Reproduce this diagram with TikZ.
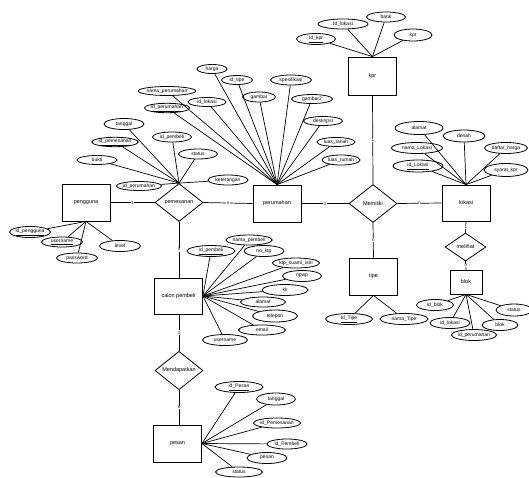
\documentclass[tikz,border=0pt]{standalone}
\usepackage{fontspec}
\setmainfont{Liberation Sans}
\usetikzlibrary{shapes.geometric}
\tikzset{
  ent/.style={draw, line width=0.8pt, rectangle, minimum width=48pt, minimum height=37pt, inner sep=0pt},
  rel/.style={draw, line width=0.8pt, diamond, minimum width=48pt, minimum height=38pt, inner sep=0pt},
  attr/.style={draw, line width=0.8pt, ellipse, inner sep=0pt, minimum width=40pt, minimum height=10pt, font=\fontsize{5}{5.5}\selectfont},
  conn/.style={line width=0.7pt},
  card/.style={fill=white, inner sep=0.6pt, font=\fontsize{4.5}{5}\selectfont},
}
\begin{document}
\begin{tikzpicture}[x=1pt,y=-1pt,font=\fontsize{5.5}{6}\selectfont]
\useasboundingbox (0,0) rectangle (529,477);
% entities
\node[ent] (pengguna) at (86,202.5) {pengguna};
\node[rel] (pemesanan) at (179,202.5) {pemesanan};
\node[ent] (perumahan) at (277,203.5) {perumahan};
\node[rel] (memiliki) at (373,203.5) {Memiliki};
\node[ent, minimum height=36pt] (lokasi) at (466,203) {lokasi};
\node[ent, minimum height=38pt] (kpr) at (372.5,76) {kpr};
\node[ent] (tipe) at (373.5,276.5) {tipe};
\node[rel, minimum width=41pt, minimum height=28pt] (melihat) at (465.5,247) {melihat};
\node[ent, minimum width=32pt, minimum height=24pt] (blok) at (466,282) {blok};
\node[ent, minimum height=36pt] (calon) at (178.5,296) {calon pembeli};
\node[rel, minimum height=37pt] (mendapatkan) at (179,370.5) {Mendapatkan};
\node[ent] (pesan) at (177.5,443.5) {pesan};

% relationships
\draw[conn] (pengguna.east) -- node[card]{1} (pemesanan.west);
\draw[conn] (pemesanan.east) -- node[card]{n} (perumahan.west);
\draw[conn] (perumahan.east) -- node[card]{1} (memiliki.west);
\draw[conn] (memiliki.east) -- node[card]{n} (lokasi.west);
\draw[conn] (kpr.south) -- node[card]{1} (memiliki.north);
\draw[conn] (memiliki.south) -- node[card]{n} (tipe.north);
\draw[conn] (lokasi.south) -- node[card]{1} (melihat.north);
\draw[conn] (melihat.south) -- node[card]{n} (blok.north);
\draw[conn] (pemesanan.south) -- node[card]{n} (pemesanan.south |- calon.north);
\draw[conn] (calon.south -| mendapatkan.north) -- node[card]{1} (mendapatkan.north);
\draw[conn] (mendapatkan.south) -- node[card]{n} (mendapatkan.south |- pesan.north);

% kpr attributes
\node[attr, minimum width=39pt, minimum height=11pt] (kpr1) at (316,39) {\underline{Id\_kpr}};
\node[attr, minimum width=50pt] (kpr2) at (343,24) {Id\_lokasi};
\node[attr, minimum width=39pt] (kpr3) at (386,17) {bank};
\node[attr, minimum width=38pt, minimum height=12pt] (kpr4) at (413,35) {kpr};
\foreach \a in {kpr1,kpr2,kpr3,kpr4} \draw[conn] (kpr.north) -- (\a);

% perumahan attributes
\node[attr, minimum width=30pt, minimum height=9pt] (pr1) at (212,69) {harga};
\node[attr, minimum width=31pt, minimum height=9pt] (pr2) at (237,80) {id\_tipe};
\node[attr, minimum width=41pt] (pr3) at (291,80) {spesifikasi};
\node[attr, minimum width=33pt] (pr4) at (259,97) {gambar};
\node[attr, minimum width=41pt, minimum height=9pt] (pr5) at (312,99) {gambar2};
\node[attr, minimum width=38pt, minimum height=9pt] (pr6) at (207,102) {id\_lokasi};
\node[attr, minimum width=49pt, minimum height=9pt] (pr7) at (167,91) {nama\_perumahan};
\node[attr, minimum width=41pt, minimum height=8pt] (pr8) at (167,108) {\underline{id\_perumahan}};
\node[attr, minimum width=39pt, minimum height=9pt] (pr9) at (323,121) {deskripsi};
\node[attr, minimum width=38pt, minimum height=9pt] (pr10) at (336,142) {luas\_tanah};
\node[attr, minimum width=38pt] (pr11) at (341,160) {luas\_rumah};
\foreach \a in {pr1,pr2,pr3,pr4,pr5,pr6,pr7,pr8,pr9,pr10,pr11} \draw[conn] (perumahan.north) -- (\a);

% pemesanan attributes
\node[attr, minimum width=40pt, minimum height=11pt] (ps1) at (124,124) {tanggal};
\node[attr, minimum width=40pt, minimum height=9pt] (ps2) at (115,142) {\underline{id\_pemesanan}};
\node[attr, minimum width=39pt] (ps3) at (172,137) {id\_pembeli};
\node[attr, minimum width=39pt] (ps4) at (198,154) {status};
\node[attr, minimum width=40pt, minimum height=9pt] (ps5) at (97,160) {bukti};
\node[attr, minimum width=40pt] (ps6) at (228,180) {keterangan};
\node[attr, minimum width=40pt, minimum height=9pt] (ps7) at (139,186) {id\_perumahan};
\foreach \a in {ps1,ps2,ps3,ps4,ps5,ps6,ps7} \draw[conn] (pemesanan.north) -- (\a);

% pengguna attributes
\node[attr, minimum width=39pt, minimum height=11pt] (pg1) at (30,232) {\underline{id\_pengguna}};
\node[attr, minimum width=41pt] (pg2) at (62,242) {\underline{username}};
\node[attr, minimum width=41pt] (pg3) at (77,258) {password};
\node[attr, minimum width=41pt, minimum height=11pt] (pg4) at (120,246) {level};
\foreach \a in {pg1,pg2,pg3,pg4} \draw[conn] (pengguna.south) -- (\a);

% lokasi attributes
\node[attr, minimum width=48pt, minimum height=13pt] (lk1) at (419,128) {alamat};
\node[attr, minimum width=42pt, minimum height=12pt] (lk2) at (464,136) {denah};
\node[attr, minimum width=51pt, minimum height=11pt] (lk3) at (417,148) {nama\_Lokasi};
\node[attr, minimum width=43pt, minimum height=11pt] (lk4) at (506,148) {daftar\_harga};
\node[attr, minimum width=50pt, minimum height=12pt] (lk5) at (418,166) {\underline{id\_Lokasi}};
\node[attr, minimum width=44pt, minimum height=13pt] (lk6) at (506,170) {syarat\_kpr};
\foreach \a in {lk1,lk2,lk3,lk4,lk5,lk6} \draw[conn] (lokasi.north) -- (\a);

% tipe attributes
\node[attr, minimum width=47pt, minimum height=11pt] (tp1) at (349,319) {\underline{Id\_Tipe}};
\node[attr, minimum width=48pt, minimum height=11pt] (tp2) at (404,319) {nama\_Tipe};
\foreach \a in {tp1,tp2} \draw[conn] (tipe.south) -- (\a);

% blok attributes
\node[attr, minimum width=37pt, minimum height=11pt] (bk1) at (435,305) {id\_blok};
\node[attr, minimum width=40pt, minimum height=11pt] (bk2) at (450,323) {id\_lokasi};
\node[attr, minimum width=40pt, minimum height=11pt] (bk3) at (474,335) {id\_perumahan};
\node[attr, minimum width=36pt, minimum height=11pt] (bk4) at (500,325) {blok};
\node[attr, minimum width=36pt, minimum height=12pt] (bk5) at (514,310) {status};
\foreach \a in {bk1,bk2,bk3,bk4,bk5} \draw[conn] (blok.south) -- (\a);

% calon pembeli attributes
\node[attr, minimum width=48pt, minimum height=11pt] (cp1) at (211,251) {\underline{id\_pembeli}};
\node[attr, minimum width=38pt] (cp2) at (249,240) {nama\_pembeli};
\node[attr, minimum width=40pt, minimum height=11pt] (cp3) at (264,251) {no\_ktp};
\node[attr, minimum width=45pt] (cp4) at (296,263) {ktp\_suami\_istri};
\node[attr, minimum width=39pt, minimum height=11pt] (cp5) at (302,276) {npwp};
\node[attr, minimum width=46pt, minimum height=11pt] (cp6) at (285,290) {kk};
\node[attr, minimum width=45pt] (cp7) at (263,302) {alamat};
\node[attr, minimum width=45pt, minimum height=12pt] (cp8) at (275,316) {telepon};
\node[attr, minimum width=47pt] (cp9) at (262,330) {email};
\node[attr, minimum width=45pt, minimum height=11pt] (cp10) at (225,340) {username};
\foreach \a in {cp1,cp2,cp3,cp4,cp5,cp6,cp7,cp8,cp9,cp10} \draw[conn] (calon.east) -- (\a);

% pesan attributes
\node[attr, minimum width=48pt, minimum height=11pt] (pn1) at (239,387) {\underline{id\_Pesan}};
\node[attr, minimum width=39pt, minimum height=12pt] (pn2) at (276,399) {tanggal};
\node[attr, minimum width=40pt] (pn3) at (277,423) {id\_Pemesanan};
\node[attr, minimum width=40pt] (pn4) at (287,444) {id\_Pembeli};
\node[attr, minimum width=40pt, minimum height=11pt] (pn5) at (267,458) {pesan};
\node[attr, minimum width=47pt] (pn6) at (239,472) {status};
\foreach \a in {pn1,pn2,pn3,pn4,pn5,pn6} \draw[conn] (pesan.east) -- (\a);
\end{tikzpicture}
\end{document}
